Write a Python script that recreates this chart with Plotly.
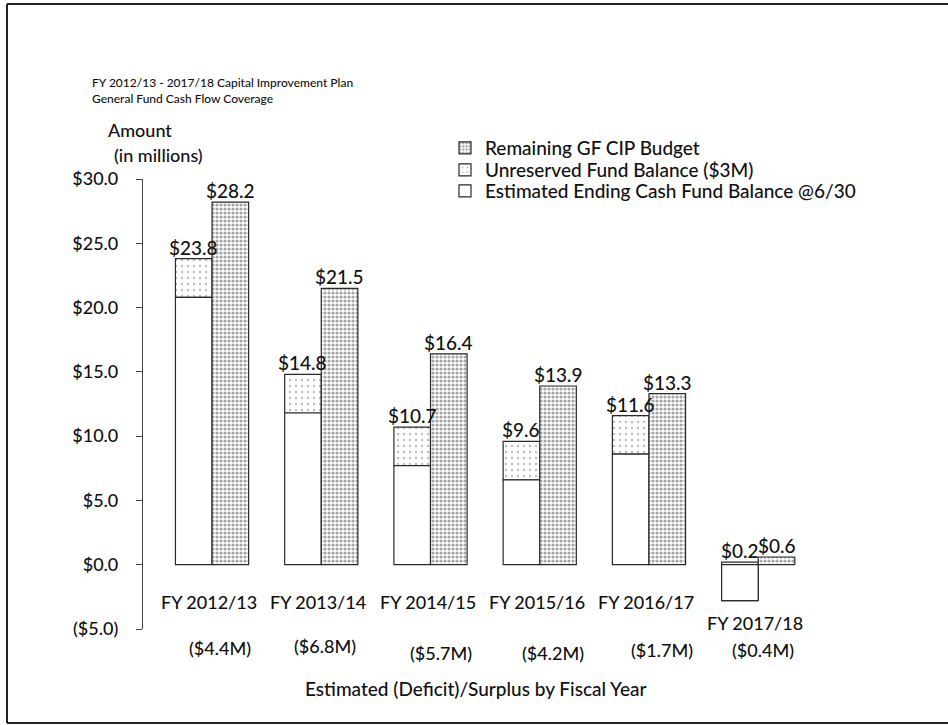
import plotly.graph_objects as go

# ---- data ----
categories = ["FY 2012/13", "FY 2013/14", "FY 2014/15", "FY 2015/16", "FY 2016/17", "FY 2017/18"]
ending_cash = [20.8, 11.8, 7.7, 6.6, 8.6, -2.8]          # Estimated Ending Cash Fund Balance @6/30
unreserved = [3.0, 3.0, 3.0, 3.0, 3.0, 3.0]              # Unreserved Fund Balance ($3M)
remaining_cip = [28.2, 21.5, 16.4, 13.9, 13.3, 0.6]      # Remaining GF CIP Budget
deficit = [-4.4, -6.8, -5.7, -4.2, -1.7, -0.4]           # Estimated (Deficit)/Surplus
ytick_vals = [-5, 0, 5, 10, 15, 20, 25, 30]
ytick_text = ["($5.0)", "$0.0", "$5.0", "$10.0", "$15.0", "$20.0", "$25.0", "$30.0"]

W, H = 948, 725
ML, MR, MT, MB = 143, 133, 179, 96
PW, PH = W - ML - MR, H - MT - MB


def px(p):
    return (p - ML) / PW


def py(p):
    return (H - MB - p) / PH


FONT = "Lato, 'Open Sans', sans-serif"
TXT = "#111111"
LINE = dict(color="#2a2a2a", width=1.2)
BARGAP = 0.33
half = (1 - BARGAP) / 4
xs = list(range(len(categories)))
left_totals = [e + u for e, u in zip(ending_cash, unreserved)]

fig = go.Figure()
# unreserved first, then ending cash drawn on top (same slot)
fig.add_trace(go.Bar(
    x=xs, y=unreserved, base=ending_cash, offsetgroup="a", name="Unreserved Fund Balance ($3M)",
    marker=dict(color="white", line=LINE,
                pattern=dict(shape=".", size=6, solidity=0.12, fgcolor="#777777", bgcolor="white")),
    legend="legend2", hoverinfo="skip",
))
fig.add_trace(go.Bar(
    x=xs, y=ending_cash, offsetgroup="a", name="Estimated Ending Cash Fund Balance @6/30",
    marker=dict(color="white", line=LINE), legend="legend3", hoverinfo="skip",
))
fig.add_trace(go.Bar(
    x=xs, y=remaining_cip, offsetgroup="b", name="Remaining GF CIP Budget",
    marker=dict(color="white", line=LINE,
                pattern=dict(shape=".", size=4, solidity=0.5, fgcolor="#4a4a4a", bgcolor="white")),
    legend="legend", hoverinfo="skip",
))

lbl_font = dict(family=FONT, size=19, color=TXT, weight=500)
annotations = []
# value labels above bars
for i in xs:
    annotations.append(dict(x=i - half, y=max(left_totals[i], 0), xref="x", yref="y",
                            text=f"${left_totals[i]:.1f}", showarrow=False, yanchor="bottom",
                            yshift=-2, font=lbl_font))
    annotations.append(dict(x=i + half, y=max(remaining_cip[i], 0), xref="x", yref="y",
                            text=f"${remaining_cip[i]:.1f}", showarrow=False, yanchor="bottom",
                            yshift=-2, font=lbl_font))
# category labels
for i, c in enumerate(categories):
    shift = -58 if ending_cash[i] < 0 else -37
    annotations.append(dict(x=i, y=0, xref="x", yref="y", text=c, showarrow=False,
                            yshift=shift, yanchor="middle", xshift=-3,
                            font=dict(family=FONT, size=18, color=TXT, weight=500)))
# deficit labels
def_y = [648, 646, 653, 653, 650, 650]
def_dx = [8, 4, 10, 13, 13, 5]
for i, d in enumerate(deficit):
    t = f"(${abs(d):.1f}M)" if d < 0 else f"${d:.1f}M"
    annotations.append(dict(x=i, y=py(def_y[i]), xref="x", yref="paper", text=t, showarrow=False,
                            xshift=def_dx[i], yanchor="middle",
                            font=dict(family=FONT, size=18, color=TXT, weight=500)))
# axis title at bottom
annotations.append(dict(x=px(476), y=py(688), xref="paper", yref="paper",
                        text="Estimated (Deficit)/Surplus by Fiscal Year", showarrow=False,
                        yanchor="middle", font=dict(family=FONT, size=19, color=TXT, weight=500)))
# y-axis title
annotations.append(dict(x=px(106), y=py(130), xref="paper", yref="paper", text="Amount",
                        showarrow=False, yanchor="middle",
                        font=dict(family=FONT, size=18, color=TXT, weight=500)))
annotations.append(dict(x=px(112), y=py(155), xref="paper", yref="paper", text="(in millions)",
                        showarrow=False, yanchor="middle",
                        font=dict(family=FONT, size=18, color=TXT, weight=500)))
# small chart title
annotations.append(dict(x=px(90), y=py(83), xref="paper", yref="paper", xanchor="left",
                        text="FY 2012/13 - 2017/18 Capital Improvement Plan", showarrow=False,
                        yanchor="middle", font=dict(family=FONT, size=12, color=TXT, weight=500)))
annotations.append(dict(x=px(90), y=py(98), xref="paper", yref="paper", xanchor="left",
                        text="General Fund Cash Flow Coverage", showarrow=False,
                        yanchor="middle", font=dict(family=FONT, size=12, color=TXT, weight=500)))

frame = dict(color="#222222", width=2)
shapes = [
    dict(type="line", xref="paper", yref="paper", x0=px(7), x1=px(7), y0=py(4), y1=py(723), line=frame),
    dict(type="line", xref="paper", yref="paper", x0=px(7), x1=px(948), y0=py(4), y1=py(4), line=frame),
    dict(type="line", xref="paper", yref="paper", x0=px(7), x1=px(948), y0=py(723), y1=py(723), line=frame),
]


def leg(row_y):
    return dict(x=px(445), y=py(row_y), xanchor="left", yanchor="middle", bgcolor="rgba(0,0,0,0)",
                font=dict(family=FONT, size=19, color=TXT, weight=500),
                itemclick=False, itemdoubleclick=False)


fig.update_layout(
    width=W, height=H, margin=dict(l=ML, r=MR, t=MT, b=MB, autoexpand=False),
    paper_bgcolor="white", plot_bgcolor="white",
    barmode="group", bargap=BARGAP, bargroupgap=0,
    font=dict(family=FONT, size=18, color=TXT),
    showlegend=True,
    legend=leg(148), legend2=leg(170), legend3=leg(191),
    annotations=annotations, shapes=shapes,
    xaxis=dict(range=[-0.632, 5.52], showticklabels=False, showline=False, showgrid=False,
               zeroline=False, ticks=""),
    yaxis=dict(range=[-5, 30], tickvals=ytick_vals, ticktext=ytick_text, showgrid=False,
               zeroline=False, showline=True, linecolor="#444444", linewidth=1.2,
               ticks="outside", ticklen=6, tickcolor="#444444", ticklabelstandoff=14,
               tickfont=dict(family=FONT, size=18, color=TXT, weight=500)),
)

fig.write_html("out.html", config={"displayModeBar": False},
               post_script="document.body.style.margin='0';")
